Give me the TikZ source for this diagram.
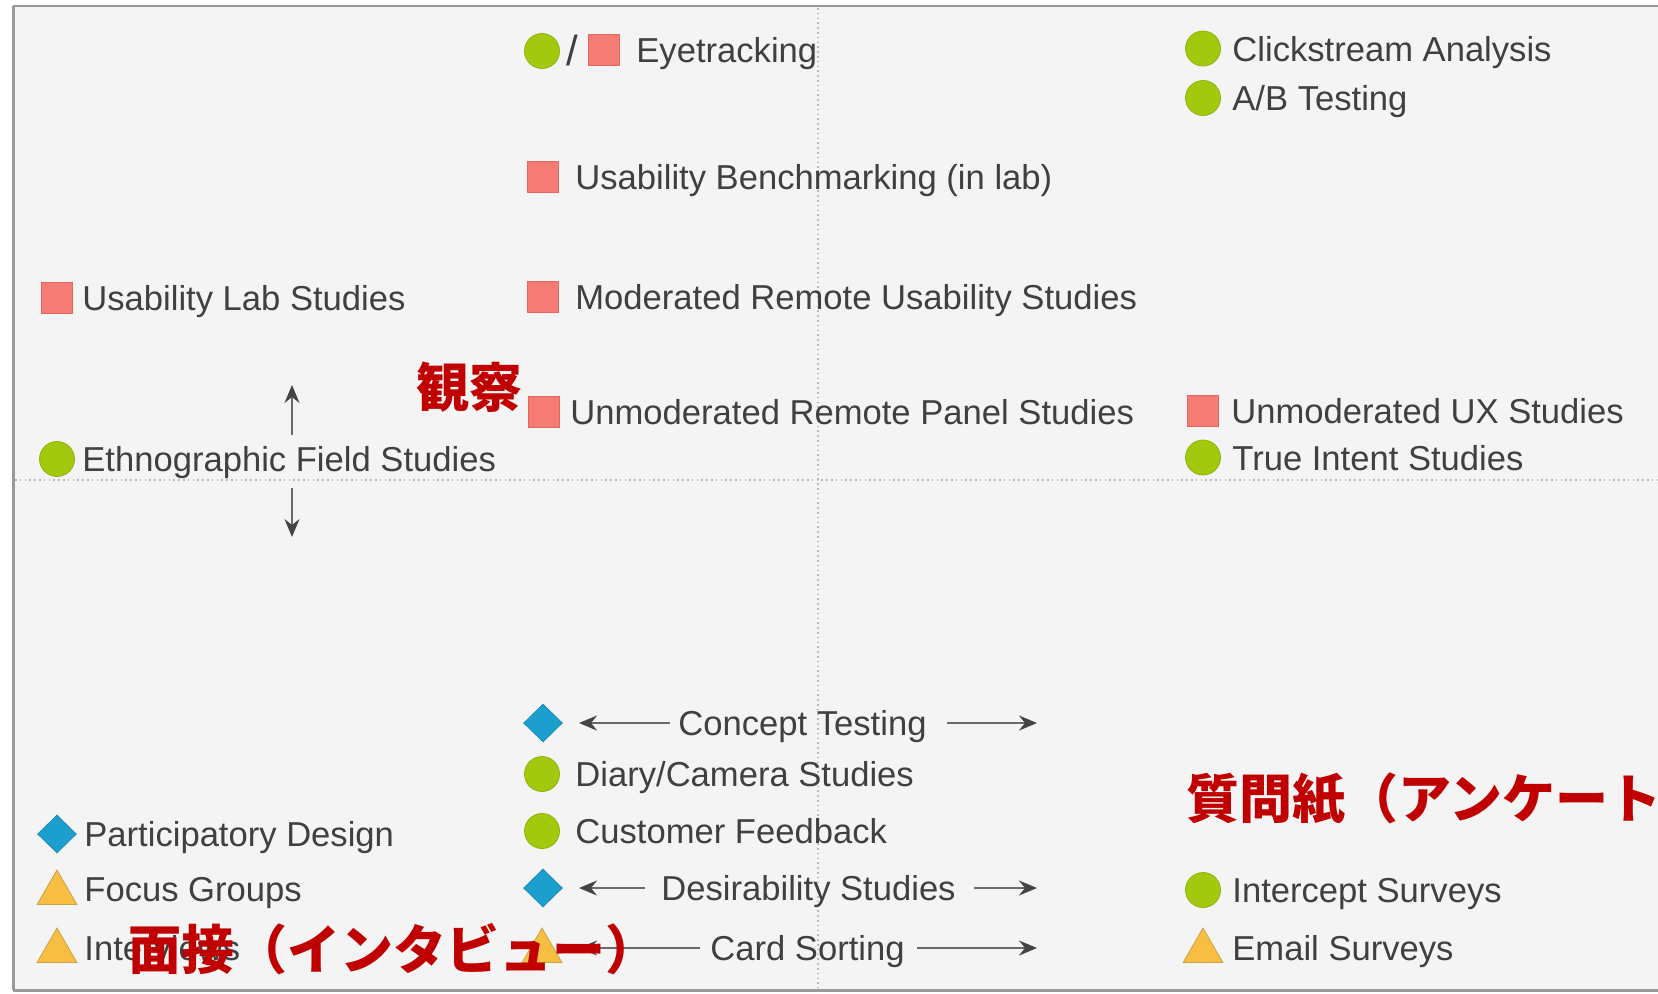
\documentclass[tikz,border=0pt]{standalone}
\usepackage{fontspec}
\setmainfont{Liberation Sans}
\newfontfamily\cjk{Noto Sans CJK JP}
\usetikzlibrary{shapes.geometric,arrows.meta}
\definecolor{bg}{HTML}{F4F4F4}
\definecolor{framec}{HTML}{999999}
\definecolor{txt}{HTML}{404040}
\definecolor{grn}{HTML}{A2C90E}
\definecolor{grnd}{HTML}{8FB30A}
\definecolor{sal}{HTML}{F57B74}
\definecolor{sald}{HTML}{E06860}
\definecolor{blu}{HTML}{1C9FCF}
\definecolor{blud}{HTML}{1786AE}
\definecolor{yel}{HTML}{F8BE42}
\definecolor{yeld}{HTML}{C9A24E}
\definecolor{jred}{HTML}{C00000}
\definecolor{dotc}{HTML}{B8B8B8}
\definecolor{arrc}{HTML}{6A6A6A}
\definecolor{arrh}{HTML}{444444}
\tikzset{
  lbl/.style={anchor=base west, inner sep=0pt, text=txt, font=\fontsize{17.3}{20}\selectfont},
  jlbl/.style={anchor=base west, inner sep=0pt, text=jred, font=\cjk\bfseries\fontsize{26.5}{30}\selectfont},
  gcirc/.style={circle, fill=grn, draw=grnd, line width=0.4pt, minimum size=17.5pt, inner sep=0pt},
  rsq/.style={rectangle, fill=sal, draw=sald, line width=0.3pt, minimum size=15.5pt, inner sep=0pt},
  bdia/.style={diamond, fill=blu, draw=blud, line width=0.3pt, minimum width=19.5pt, minimum height=19pt, inner sep=0pt},
  ytri/.style={regular polygon, regular polygon sides=3, fill=yel, draw=yeld, line width=0.4pt, minimum size=23pt, inner sep=0pt},
  conn/.style={draw=arrc, line width=1pt, -{Stealth[length=9pt,width=7.5pt,inset=3pt,color=arrh]}},
  dotline/.style={draw=dotc, line width=0.8pt, dash pattern=on 0.8pt off 1.6pt},
}
\begin{document}
\begin{tikzpicture}[x=0.5pt,y=-0.5pt]
\clip (0,0) rectangle (1658,993);
\fill[white] (0,0) rectangle (1658,993);
\fill[bg] (13,6) rectangle (1658,990);
% frame
\draw[framec, line width=1.2pt] (13,6) -- (1658,6);
\draw[framec, line width=1.5pt] (13,6) -- (13,990);
\draw[framec, line width=1.5pt] (13,990) -- (1658,990);
% quadrant dividers
\coordinate (vt) at (818,8);
\coordinate (vb) at (818,988);
\coordinate (hl) at (15,480);
\coordinate (hr) at (1658,480);
\draw[dotline] (vt) -- (vb);
\draw[dotline] (hl) -- (hr);

% top area
\node[gcirc] (eyeC) at (542,51) {};
\node[anchor=center, inner sep=0pt, text=txt, font=\fontsize{21}{24}\selectfont] (eyeS) at (572,50) {/};
\node[rsq] (eyeR) at (604,50) {};
\node[lbl] (eye) at (636,62) {Eyetracking};

\node[gcirc] (clkI) at (1203,48.5) {};
\node[lbl] (clk) at (1232,61) {Clickstream Analysis};
\node[gcirc] (abI) at (1203,98) {};
\node[lbl] (ab) at (1232,110) {A/B Testing};

\node[rsq] (ubI) at (543,177) {};
\node[lbl] (ub) at (575,189) {Usability Benchmarking (in lab)};

\node[rsq] (ulI) at (57,298) {};
\node[lbl] (ul) at (82,310) {Usability Lab Studies};
\node[rsq] (mrI) at (543,297) {};
\node[lbl] (mr) at (575,309) {Moderated Remote Usability Studies};

\node[rsq] (urI) at (544,412) {};
\node[lbl] (ur) at (570,424) {Unmoderated Remote Panel Studies};
\node[rsq] (uxI) at (1203,411) {};
\node[lbl] (ux) at (1231,423) {Unmoderated UX Studies};

\node[gcirc] (efI) at (57,459) {};
\node[lbl] (ef) at (82,471) {Ethnographic Field Studies};
\node[gcirc] (tiI) at (1203,457.5) {};
\node[lbl] (ti) at (1232,470) {True Intent Studies};

\coordinate (upB) at (292,435);
\coordinate (upT) at (292,385);
\draw[conn] (upB) -- (upT);
\coordinate (dnT) at (292,488);
\coordinate (dnB) at (292,537);
\draw[conn] (dnT) -- (dnB);

% bottom area
\node[bdia] (ctI) at (543,723) {};
\node[lbl] (ct) at (678,735) {Concept Testing};
\coordinate (ctL) at (579,723);
\coordinate (ctR) at (1037,723);
\draw[conn, shorten <=4pt] (ct.west |- ctL) -- (ctL);
\draw[conn, shorten <=10pt] (ct.east |- ctR) -- (ctR);

\node[gcirc] (dcI) at (542,774) {};
\node[lbl] (dc) at (575,786) {Diary/Camera Studies};
\node[gcirc] (cfI) at (542,831) {};
\node[lbl] (cf) at (575,843) {Customer Feedback};

\node[bdia] (pdI) at (57,834) {};
\node[lbl] (pd) at (84,846) {Participatory Design};

\node[ytri] (fgI) at (57,893) {};
\node[lbl] (fg) at (84,901) {Focus Groups};

\node[bdia] (dsI) at (543,888) {};
\node[lbl] (ds) at (661,900) {Desirability Studies};
\coordinate (dsL) at (579,888);
\coordinate (dsR) at (1037,888);
\draw[conn, shorten <=8pt] (ds.west |- dsL) -- (dsL);
\draw[conn, shorten <=9pt] (ds.east |- dsR) -- (dsR);

\node[gcirc] (isI) at (1203,890) {};
\node[lbl] (is) at (1232,902) {Intercept Surveys};

\node[ytri] (ivI) at (57,951) {};
\node[lbl] (iv) at (84,960) {Interviews};

\node[ytri] (csI) at (542,951) {};
\node[lbl] (cs) at (710,960) {Card Sorting};
\coordinate (csL) at (579,948);
\coordinate (csR) at (1037,948);
\draw[conn, shorten <=5pt] (cs.west |- csL) -- (csL);
\draw[conn, shorten <=6pt] (cs.east |- csR) -- (csR);

\node[ytri] (esI) at (1203,951) {};
\node[lbl] (es) at (1232,960) {Email Surveys};

% red category labels
\node[jlbl] (obs) at (416,407) {観察};
\node[jlbl] (itv) at (128,969) {面接（インタビュー）};
\node[jlbl] (qst) at (1186,818) {質問紙（アンケート};
\end{tikzpicture}
\end{document}
